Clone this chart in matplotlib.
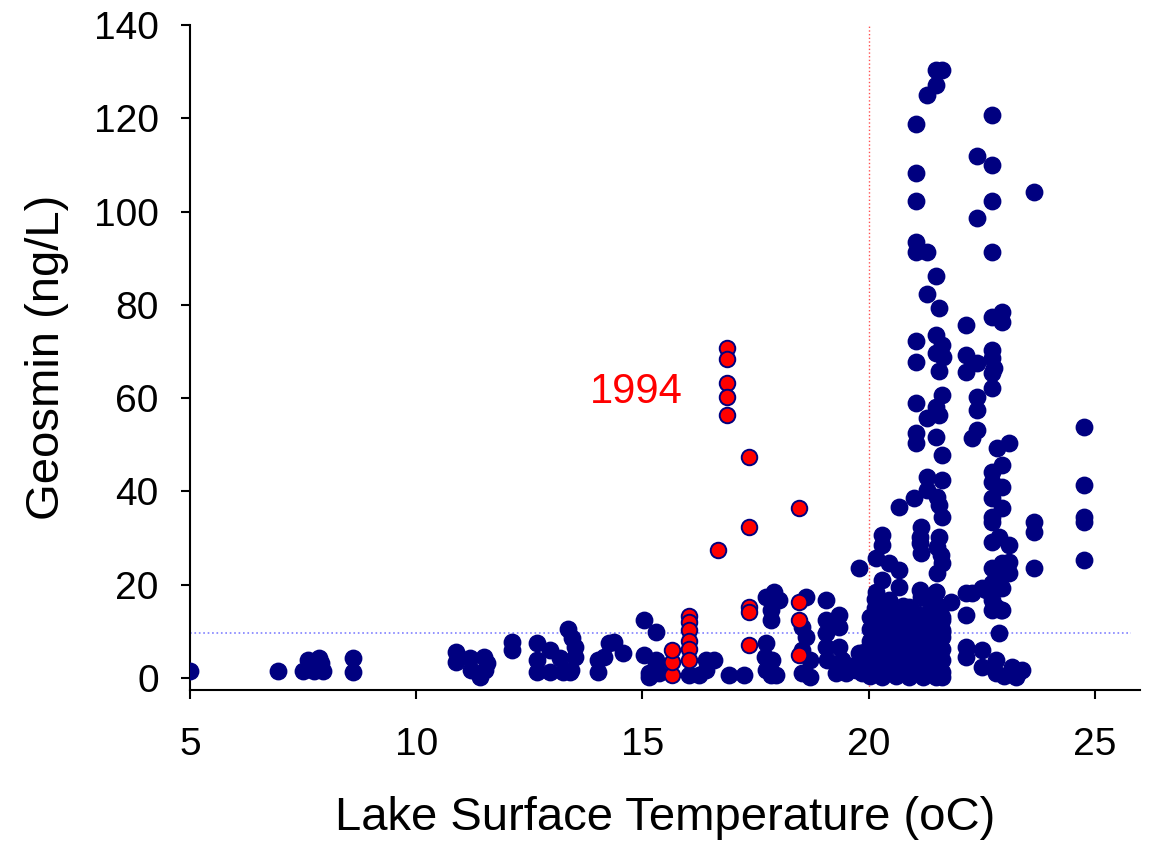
import matplotlib
matplotlib.use("Agg")
import matplotlib.pyplot as plt

plt.rcParams['font.family'] = ['Liberation Sans', 'DejaVu Sans']

# all years (navy)
temp_all = [
    5.0, 6.95, 7.5, 7.6, 7.75, 7.85, 7.95, 7.9, 8.6, 8.6,
    10.89, 10.89, 11.18, 11.22, 11.40, 11.5, 11.56, 11.53,
    12.11, 12.11, 12.66, 12.66, 12.66, 12.95, 12.95, 13.17, 13.25, 13.39, 13.35, 13.45, 13.5, 13.5, 13.43,
    14.01, 14.01, 14.16, 14.27, 14.37, 14.56,
    15.04, 15.04, 15.15, 15.31, 15.31, 15.15, 15.37, 15.31,
    16.04, 16.26, 16.41, 16.59, 16.41, 16.92, 17.25,
    17.74, 17.9, 18.02, 17.85, 17.85, 17.74, 17.70, 17.87, 17.74, 17.85, 17.96,
    18.62, 18.53, 18.62, 18.53, 18.7, 18.53, 18.7,
    19.06, 19.06, 19.06, 19.06, 19.08, 19.35, 19.35, 19.35, 19.42, 19.28, 19.5,
    19.79, 19.79, 19.72, 19.85, 19.6, 19.95, 19.9,
    21.5, 21.62, 21.5, 21.29, 21.05, 22.73, 22.4, 22.73, 21.05, 23.65,
    21.05, 22.73, 22.4, 21.05, 21.05, 21.29, 22.73, 21.49, 21.29, 21.56,
    22.95, 22.73, 22.95, 22.15, 21.05, 21.49, 21.62, 21.49, 21.65,
    22.15, 22.4, 22.73, 22.73, 22.78, 22.73, 21.05, 21.56, 22.15, 22.73,
    21.05, 21.62, 21.49, 21.56, 21.29, 21.05, 21.05, 21.49, 21.62,
    22.4, 22.4, 22.4, 22.28, 22.84, 23.1, 22.95, 22.73, 22.73, 22.95, 22.73, 22.95, 22.73,
    23.65, 23.65, 23.65, 24.76, 24.76, 24.76, 24.76, 24.76,
    21.29, 21.62, 21.29, 21.52, 21.56, 21.62, 21.0, 20.67,
    21.56, 21.52, 21.6, 21.62, 21.52, 21.16, 21.13, 21.16, 21.13,
    20.3, 20.3, 20.17, 20.45, 20.67, 20.3, 20.17, 20.67, 20.45, 21.13, 21.49, 21.82, 21.6, 21.62, 21.62,
    22.15, 22.15, 22.51, 22.84, 22.88, 22.95, 23.1, 23.1, 22.73, 22.82, 22.93, 22.88,
    22.15, 22.15, 22.51, 22.51, 22.82, 22.82, 23.17, 23.39, 23.26,
    22.73, 22.73, 22.88, 23.1, 23.03, 22.28, 22.6, 22.73, 22.95, 22.73, 22.73, 22.95, 23.0, 23.3,
    20.08, 20.08, 20.52, 20.89, 21.27, 21.62, 21.62, 21.16, 21.49,
    20.02, 20.02, 20.02, 20.02, 20.02, 20.02,
    20.15, 20.15, 20.15, 20.15, 20.15, 20.15, 20.15,
    20.3, 20.3, 20.3, 20.3, 20.3, 20.3,
    20.45, 20.45, 20.45, 20.45, 20.45, 20.45,
    20.6, 20.6, 20.6, 20.6, 20.6, 20.6,
    20.75, 20.75, 20.75, 20.75, 20.75, 20.75,
    20.9, 20.9, 20.9, 20.9, 20.9, 20.9,
    21.05, 21.05, 21.05, 21.05, 21.05, 21.05,
    21.2, 21.2, 21.2, 21.2, 21.2, 21.2,
    21.35, 21.35, 21.35, 21.35, 21.35, 21.35,
    21.5, 21.5, 21.5, 21.5, 21.5, 21.5,
    21.62, 21.62, 21.62, 21.62, 21.62,
    20.0, 19.98,
]
geosmin_all = [
    1.5, 1.5, 1.5, 3.9, 1.5, 4.3, 1.5, 3.2, 4.3, 1.3,
    5.6, 3.4, 4.3, 1.7, 0.2, 4.5, 3.2, 1.7,
    7.7, 6.0, 7.5, 3.9, 1.3, 6.0, 1.3, 4.3, 1.3, 1.3, 10.5, 8.5, 6.6, 4.5, 1.7,
    3.9, 1.3, 4.5, 7.5, 7.7, 5.4,
    12.4, 4.9, 1.1, 9.9, 3.9, 0.2, 1.1, 3.2,
    0.6, 0.6, 3.9, 3.9, 1.7, 0.6, 0.6,
    17.4, 18.4, 16.7, 14.6, 12.4, 7.5, 4.5, 3.9, 1.7, 0.6, 0.6,
    17.4, 10.9, 8.8, 6.0, 3.9, 1.1, 0.2,
    16.7, 12.4, 9.6, 6.6, 3.9, 13.5, 10.9, 6.6, 3.9, 1.1, 1.1,
    23.6, 5.4, 1.7, 1.1, 2.5, 3.0, 5.5,
    130.4, 130.4, 127.1, 125.0, 118.8, 120.7, 111.9, 110.0, 108.3, 104.2,
    102.3, 102.3, 98.6, 93.5, 91.3, 91.3, 91.3, 86.2, 82.3, 79.3,
    78.5, 77.4, 76.3, 75.7, 72.3, 73.5, 71.4, 69.7, 68.8,
    69.3, 67.5, 70.3, 68.6, 66.5, 65.4, 67.8, 65.8, 65.6, 62.2,
    59.0, 60.7, 58.1, 56.4, 55.7, 52.5, 50.4, 51.7, 47.8,
    60.2, 57.5, 53.2, 51.5, 49.3, 50.4, 45.7, 44.2, 42.0, 41.0, 38.6, 36.5, 34.5,
    33.4, 31.3, 23.6, 53.8, 41.4, 34.5, 33.4, 25.3,
    43.1, 42.5, 40.3, 38.8, 37.1, 34.5, 38.6, 36.7,
    30.2, 28.1, 26.4, 24.7, 22.5, 32.4, 30.2, 26.8, 28.9,
    30.7, 28.5, 25.7, 24.7, 23.2, 21.0, 18.4, 19.5, 16.7, 18.9, 18.4, 16.3, 15.2, 12.4, 9.9,
    18.2, 13.5, 19.3, 21.0, 19.3, 24.7, 24.9, 22.5, 23.6, 15.2, 14.6, 9.6,
    6.6, 4.5, 6.0, 2.4, 3.9, 1.1, 2.4, 1.7, 0.2,
    33.4, 29.2, 30.2, 28.5, 22.5, 18.2, 18.9, 20.4, 19.3, 16.7, 14.6, 14.6, 0.5, 1.0,
    13.1, 10.3, 14.6, 15.2, 12.4, 13.1, 10.3, 17.4, 18.4,
    0.5, 3.0, 5.5, 8.0, 10.5, 13.0,
    1.5, 4.0, 6.5, 9.0, 11.5, 15.0, 17.0,
    0.3, 2.5, 5.0, 7.5, 10.0, 12.5,
    1.2, 3.8, 6.2, 8.8, 11.2, 14.0,
    0.4, 2.8, 5.3, 7.8, 10.2, 12.8,
    1.5, 4.2, 6.8, 9.3, 11.8, 15.5,
    0.3, 2.6, 5.2, 7.6, 10.0, 13.0,
    1.3, 3.9, 6.4, 8.9, 11.5, 14.0,
    0.2, 2.8, 5.4, 8.0, 10.4, 13.2,
    1.1, 3.6, 6.1, 8.7, 11.0, 16.0,
    0.2, 2.5, 5.0, 7.5, 10.3, 13.8,
    1.2, 3.8, 6.3, 8.8, 0.2,
    4.5, 1.0,
]

# 1994 samples (red)
temp_1994 = [15.66, 15.66, 15.66, 16.04, 16.04, 16.04, 16.04, 16.04, 16.04,
             16.88, 16.88, 16.88, 16.88, 16.88, 17.36, 17.36, 16.66, 18.47,
             17.36, 17.36, 17.36, 18.47, 18.47, 18.47]
geosmin_1994 = [0.6, 3.4, 6.0, 13.3, 12.0, 10.3, 7.9, 6.2, 3.9,
                70.8, 68.4, 63.2, 60.2, 56.4, 47.4, 32.4, 27.4, 36.4,
                15.2, 14.2, 7.0, 16.3, 12.4, 4.9]

temp_threshold = 20
geosmin_threshold = 9.6

fig = plt.figure(figsize=(11.53, 8.41), dpi=100)
ax = fig.add_axes([0.1648, 0.1795, 0.824, 0.7908])

ax.vlines(temp_threshold, -2.6, 140, colors='#ff5050', linestyles=':', linewidth=1)
ax.hlines(geosmin_threshold, 5, 25.8, colors='#8080ff', linestyles=':', linewidth=1.2)

ax.scatter(temp_all, geosmin_all, s=140, color='#000080', edgecolors='#000080',
           linewidths=1, zorder=3)
ax.scatter(temp_1994, geosmin_1994, s=125, color='#ff0000', edgecolors='#000080',
           linewidths=1.4, zorder=4)
ax.text(14.87, 61.3, '1994', color='#ff0000', fontsize=30, ha='center', va='center')

ax.set_xlim(5, 26)
ax.set_ylim(-2.6, 140)
ax.set_xticks([5, 10, 15, 20, 25])
ax.set_yticks(range(0, 141, 20))
ax.tick_params(axis='x', direction='out', length=6.5, width=1.5, labelsize=28, pad=20)
ax.tick_params(axis='y', direction='out', length=6.5, width=1.5, labelsize=28, pad=16)
for side in ['top', 'right']:
    ax.spines[side].set_visible(False)
for side in ['left', 'bottom']:
    ax.spines[side].set_linewidth(1.5)

ax.set_xlabel('Lake Surface Temperature (oC)', fontsize=34, va='baseline')
ax.set_ylabel('Geosmin (ng/L)', fontsize=34)
ax.xaxis.set_label_coords(0.5, -0.21)
ax.yaxis.set_label_coords(-0.127, 0.5)

fig.savefig('out.png', dpi=100)
